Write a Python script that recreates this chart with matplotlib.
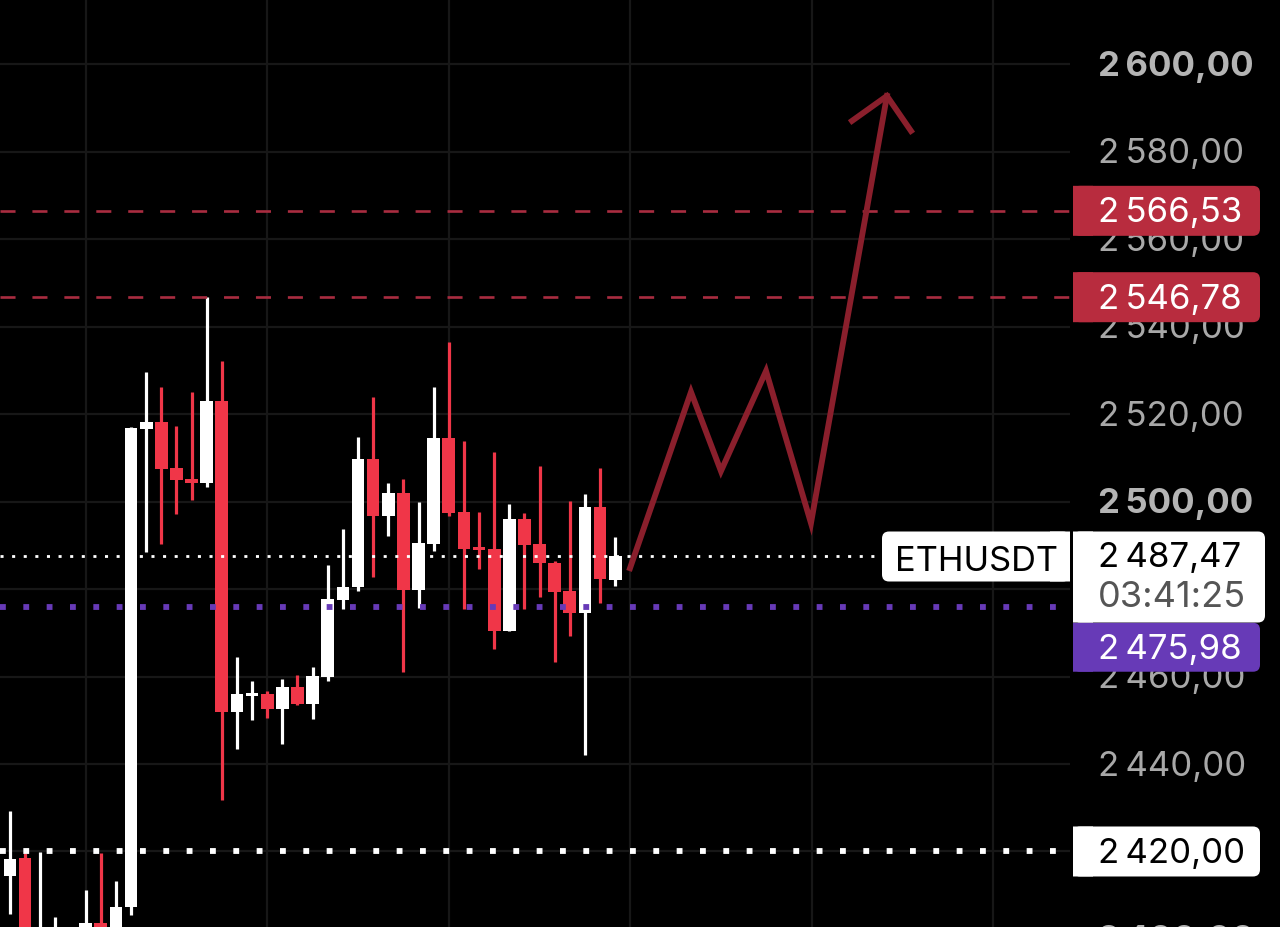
import matplotlib
matplotlib.use("Agg")
import matplotlib.pyplot as plt
from matplotlib.patches import FancyBboxPatch, Rectangle
from matplotlib.transforms import IdentityTransform

plt.rcParams["font.family"] = ["Inter", "DejaVu Sans"]

# candles, left to right (the first few run off the bottom of the picture)
opens = [2414.5, 2418.4, 2390.0, 2392.0, 2394.0, 2398.0, 2403.6, 2398.0, 2407.4, 2516.6,
         2518.2, 2507.6, 2505.2, 2504.35, 2523.1, 2452.0, 2455.6, 2455.95, 2452.5, 2457.7,
         2453.7, 2460.0, 2477.5, 2480.4, 2509.8, 2496.8, 2502.1, 2479.7, 2490.3, 2514.5,
         2497.6, 2489.6, 2489.2, 2470.4, 2496.0, 2490.3, 2486.05, 2479.6, 2474.6, 2498.8,
         2482.2]
highs = [2429.3, 2419.65, 2419.95, 2405.1, 2400.0, 2411.2, 2419.65, 2413.3, 2517.15, 2529.7,
         2526.2, 2517.4, 2525.1, 2546.75, 2532.2, 2464.55, 2459.0, 2456.8, 2459.4, 2460.4,
         2462.1, 2485.5, 2493.7, 2514.7, 2524.0, 2504.2, 2505.1, 2500.0, 2526.2, 2536.6,
         2513.95, 2497.6, 2511.4, 2499.4, 2497.35, 2508.1, 2486.5, 2500.1, 2501.8, 2507.6,
         2491.9]
lows = [2405.7, 2392.0, 2385.0, 2388.0, 2390.0, 2395.0, 2394.0, 2395.0, 2405.5, 2488.6,
        2490.3, 2497.2, 2500.4, 2503.4, 2431.8, 2443.4, 2450.1, 2450.5, 2444.65, 2453.4,
        2450.2, 2459.1, 2475.4, 2479.6, 2482.8, 2492.2, 2461.05, 2475.6, 2488.8, 2496.8,
        2475.4, 2484.6, 2466.2, 2470.4, 2475.5, 2478.1, 2463.3, 2469.35, 2442.1, 2476.9,
        2480.8]
closes = [2418.2, 2398.0, 2396.0, 2398.0, 2398.0, 2403.6, 2398.0, 2407.4, 2516.9, 2518.2,
          2507.5, 2505.0, 2504.35, 2523.1, 2452.0, 2455.95, 2456.2, 2452.5, 2457.7, 2453.7,
          2460.1, 2477.7, 2480.6, 2509.8, 2496.8, 2502.1, 2479.7, 2490.5, 2514.5, 2497.4,
          2489.25, 2488.95, 2470.4, 2496.0, 2490.1, 2485.9, 2479.4, 2474.6, 2498.8, 2482.4,
          2487.65]

# hand drawn arrow, (candle index, price)
arrow_x = [40.98, 45.01, 46.99, 49.97, 52.94, 57.96]
arrow_y = [2484.8, 2525.1, 2507.0, 2529.9, 2495.1, 2592.8]
head_x = [55.65, 57.96, 59.55]
head_y = [2587.1, 2592.8, 2584.8]

grid_prices = [2600, 2580, 2560, 2540, 2520, 2500, 2480, 2460, 2440, 2420, 2400]
# 2480 sits fully behind the timer box, so it has no label here
tick_prices = [2600, 2580, 2560, 2540, 2520, 2500, 2460, 2440, 2400]
tick_labels = ["2\u2009600,00", "2\u2009580,00", "2\u2009560,00", "2\u2009540,00", "2\u2009520,00",
               "2\u2009500,00", "2\u2009460,00", "2\u2009440,00", "2\u2009400,00"]
bold_ticks = [2600, 2500, 2400]
grid_columns = [5, 17, 29, 41, 53, 65]

resistance_levels = [2566.53, 2546.78]
resistance_labels = ["2\u2009566,53", "2\u2009546,78"]
purple_level = 2475.98
white_level = 2420.00
last_price = 2487.47

RED = "#f03648"
BOX_RED = "#b82c3e"
LINE_RED = "#a92c40"
PURPLE = "#673ab7"
ARROW = "#8a1f2c"
LEFT_IDX = -0.661
RIGHT_IDX = 83.94
PLOT_END = 70.06
Y_MIN = 2402.73
Y_MAX = 2614.98

fig = plt.figure(figsize=(12.8, 9.28), dpi=100, facecolor="black")
ax = fig.add_axes([0, 0, 1, 1])
ax.set_facecolor("black")
ax.set_xlim(LEFT_IDX, RIGHT_IDX)
ax.set_ylim(Y_MIN, Y_MAX)
ax.axis("off")

# grid
ax.hlines(grid_prices, LEFT_IDX, PLOT_END, color="#171717", lw=1.6, zorder=1)
ax.vlines(grid_columns, Y_MIN, Y_MAX, color="#171717", lw=1.6, zorder=1)

# candles
x = list(range(len(opens)))
colors = ["white" if c >= o else RED for o, c in zip(opens, closes)]
ax.vlines(x, lows, highs, colors=colors, lw=2.3, zorder=3)
ax.bar(x, [abs(c - o) for o, c in zip(opens, closes)],
       bottom=[min(o, c) for o, c in zip(opens, closes)],
       width=0.84, color=colors, linewidth=0, zorder=3)

# levels
ax.hlines(resistance_levels, LEFT_IDX, PLOT_END, color=LINE_RED, lw=1.9,
          linestyles=[(0, (5.7, 6.4))], capstyle="butt", zorder=4)
ax.hlines(last_price, LEFT_IDX, 57.6, color="white", lw=2.0,
          linestyles=[(0, (1.1, 3.08))], capstyle="butt", zorder=4)
ax.hlines(purple_level, LEFT_IDX, PLOT_END, color=PURPLE, lw=4.2,
          linestyles=[(0, (1.0, 3.0))], capstyle="butt", zorder=4)
ax.hlines(white_level, LEFT_IDX, PLOT_END, color="white", lw=4.2,
          linestyles=[(0, (1.0, 3.0))], capstyle="butt", zorder=4)

# arrow
ax.plot(arrow_x, arrow_y, color=ARROW, lw=4.2, solid_joinstyle="miter", zorder=5)
ax.plot(head_x, head_y, color=ARROW, lw=4.2, solid_joinstyle="miter", zorder=5)


def py(price):
    return ax.transData.transform((0, price))[1]


# round box with one square side, coordinates in pixels
def box(x0, x1, price, up, down, color, square="left"):
    yc = py(price)
    y0, y1 = yc - down, yc + up
    r = 7
    ax.add_patch(FancyBboxPatch((x0 + r, y0 + r), x1 - x0 - 2 * r, y1 - y0 - 2 * r,
                                boxstyle="round,pad=%d,rounding_size=%d" % (r, r),
                                fc=color, ec="none", transform=IdentityTransform(),
                                zorder=7, clip_on=False, snap=False))
    sx = x0 if square == "left" else x1 - 20
    ax.add_patch(Rectangle((sx, y0), 20, y1 - y0, fc=color, ec="none", snap=False,
                           transform=IdentityTransform(), zorder=7, clip_on=False))


def label(x_px, price, s, color, weight="normal", size=25, off=2, ha="left", z=8):
    ax.text(x_px, py(price) + off, s, color=color, fontsize=size, fontweight=weight,
            ha=ha, va="center_baseline", transform=IdentityTransform(), zorder=z,
            clip_on=False)


# tick labels go under the boxes
for p, s in zip(tick_prices, tick_labels):
    if p in bold_ticks:
        label(1098, p, s, "#b4b4b4", weight="bold", z=6)
    else:
        label(1098, p, s, "#a8a8a8", z=6)

for lvl, s in zip(resistance_levels, resistance_labels):
    box(1073, 1260, lvl, 25, 25, BOX_RED)
    label(1098, lvl, s, "white")

# the purple tag is pushed down below the timer box
box(1073, 1260, purple_level, -16, 65, PURPLE)
label(1098, purple_level, "2\u2009475,98", "white", off=-39)

box(1073, 1260, white_level, 25, 25, "white")
label(1098, white_level, "2\u2009420,00", "black")

# last price, timer and symbol
box(1073, 1265, last_price, 25, 66, "white")
label(1098, last_price, "2\u2009487,47", "black", off=3)
label(1098, last_price, "03:41:25", "#555555", size=26, off=-37)
box(882, 1070, last_price, 25, 25, "white", square="right")
label(976, last_price, "ETHUSDT", "black", size=24.8, off=-1, ha="center")

fig.savefig("out.png", dpi=100, facecolor="black")
